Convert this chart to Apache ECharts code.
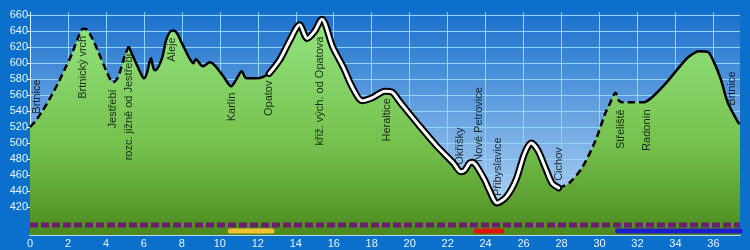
<!DOCTYPE html>
<html>
<head>
<meta charset="UTF-8">
<title>Výškový profil Brtnice</title>
<script src="https://cdn.jsdelivr.net/npm/echarts@6.0.0/dist/echarts.min.js"></script>
<style>
    html, body { margin: 0; padding: 0; background: #0a70cc; }
    #main { width: 750px; height: 250px; }
</style>
</head>
<body>
<div id="main"></div>
<script>
// profil trasy (km, m n. m.)
var profileKm = [0, 0.3, 0.65, 1.1, 1.5, 1.9, 2.2, 2.5, 2.8, 3.0, 3.3, 3.6, 4.05, 4.37, 4.63, 5.0, 5.2, 5.4, 5.8, 6.0,
    6.15, 6.37, 6.5, 6.6, 6.95, 7.2, 7.5, 7.7, 8.0, 8.4, 8.6, 8.74, 9.1, 9.47, 9.74, 10.2, 10.6, 10.9, 11.15, 11.4,
    11.95, 12.3, 12.6, 13.15, 13.7, 14.2, 14.6, 15.0, 15.37, 15.95, 16.5, 17.0, 17.5, 18.05, 18.7, 19.05, 19.5, 20.5, 21.4, 22.3,
    22.7, 22.9, 23.15, 23.3, 23.5, 23.95, 24.2, 24.6, 25.1, 25.6, 26.05, 26.4, 26.75, 27.2, 27.5, 27.85, 28.4, 29.1, 29.8, 30.3,
    30.5, 30.85, 31.0, 31.2, 32.4, 32.8, 33.5, 34.2, 34.7, 35.26, 35.7, 36.05, 36.4, 36.75, 37.3, 37.4];
var profileElev = [520, 528, 540, 558, 576, 596, 611, 630, 643, 642, 630, 614, 589, 576, 582, 610, 621, 610, 589, 581,
    587, 606, 594, 591, 606, 631, 641, 639, 625, 606, 600, 605, 596, 601, 597, 583, 571, 581, 590, 581,
    581, 583, 587, 604, 629, 648, 631, 640, 655, 620, 595, 569, 553, 557, 565, 564, 551, 522, 497, 475,
    464, 466, 475, 476, 472, 454, 441, 425, 433, 454, 487, 500, 491, 466, 450, 444, 450, 470, 504, 537,
    547, 563, 554, 551, 551, 558, 575, 595, 608, 615, 614, 600, 579, 551, 526, 524];

// zastávky
var stopNames = ['Brtnice', 'Brtnický vrch', 'Jestřebí', 'rozc. jižně od Jestřebí', 'Aleje', 'Karlín', 'Opatov',
    'křiž. vých. od Opatova', 'Heraltice', 'Okříšky', 'Nové Petrovice', 'Přibyslavice', 'Cichov', 'Střeliště', 'Radonín', 'Brtnice'];
var stopKm = [0.37, 2.78, 4.37, 5.2, 7.5, 10.65, 12.6, 15.3, 18.8, 22.65, 23.65, 24.65, 27.85, 31.15, 32.5, 37.0];
var stopElev = [528, 643, 576, 621, 641, 572, 587, 642, 565, 464, 468, 425, 444, 551, 551, 538];

// povrch / značení úseků
var segFrom = [0, 5.2, 12.6, 27.85, 32.4];
var segTo = [5.2, 12.6, 27.85, 32.4, 37.4];
var segKind = ['dashed', 'solid', 'marked', 'dashed', 'solid'];

// barevné pruhy dole
var stripFrom = [10.55, 23.5, 30.95];
var stripTo = [12.75, 24.85, 37.4];
var stripColor = ['#f2c232', '#e41010', '#1c1ccc'];

var xTicks = [0, 2, 4, 6, 8, 10, 12, 14, 16, 18, 20, 22, 24, 26, 28, 30, 32, 34, 36];
var yTicks = [420, 440, 460, 480, 500, 520, 540, 560, 580, 600, 620, 640, 660];

var xMax = 37.4;
var profile = profileKm.map(function (k, i) { return [k, profileElev[i]]; });

function slice(a, b) {
    return profile.filter(function (p) { return p[0] >= a - 1e-6 && p[0] <= b + 1e-6; });
}

var series = [];

// zelená plocha
series.push({
    type: 'line', data: profile, symbol: 'none', smooth: 0.3, silent: true,
    lineStyle: { width: 0 },
    areaStyle: {
        origin: 'start', opacity: 1,
        color: new echarts.graphic.LinearGradient(0, 0, 0, 1, [
            { offset: 0, color: '#94e480' },
            { offset: 0.6, color: '#74c04c' },
            { offset: 1, color: '#4c8a1e' }
        ])
    },
    z: 1
});

// fialová tečkovaná čára
series.push({
    type: 'line', data: [[0, 397.5], [xMax, 397.5]], symbol: 'none', silent: true,
    lineStyle: { color: '#6e1e6e', width: 5, type: [8, 3] }, z: 3
});
stripFrom.forEach(function (a, i) {
    series.push({
        type: 'line', data: [[a, 390], [stripTo[i], 390]], symbol: 'none', silent: true,
        lineStyle: { color: stripColor[i], width: 5, cap: 'round' }, z: 3
    });
});

segFrom.forEach(function (a, i) {
    var d = slice(a, segTo[i]);
    if (segKind[i] == 'marked') {
        series.push({ type: 'line', data: d, symbol: 'none', smooth: 0.3, silent: true,
            lineStyle: { color: '#000', width: 7, cap: 'round', join: 'round' }, z: 4 });
        series.push({ type: 'line', data: d, symbol: 'none', smooth: 0.3, silent: true,
            lineStyle: { color: '#fff', width: 3, cap: 'round', join: 'round' }, z: 5 });
    } else {
        series.push({ type: 'line', data: d, symbol: 'none', smooth: 0.3, silent: true,
            lineStyle: { color: '#000', width: 2.5, type: segKind[i] == 'dashed' ? [7, 4] : 'solid', join: 'round' }, z: 4 });
    }
});

// popisky zastávek
series.push({
    type: 'scatter', symbolSize: 0, silent: true, z: 6,
    data: stopNames.map(function (n, i) {
        var above = stopElev[i] < 540;
        return {
            value: [stopKm[i], stopElev[i]], name: n,
            label: {
                show: true, formatter: n, rotate: 90,
                position: above ? 'top' : 'bottom', distance: 7,
                align: above ? 'left' : 'right', verticalAlign: 'middle',
                color: '#000', fontSize: 11, fontFamily: 'Liberation Sans, Arial, sans-serif'
            }
        };
    })
});

var chart = echarts.init(document.getElementById('main'));
chart.setOption({
    backgroundColor: '#0a70cc',
    animation: false,
    grid: {
        left: 30, right: 10, top: 12, bottom: 15, show: true, borderWidth: 0,
        backgroundColor: new echarts.graphic.LinearGradient(0, 0, 0, 1, [
            { offset: 0, color: '#1a70cc' },
            { offset: 1, color: '#c4e0f8' }
        ])
    },
    xAxis: {
        type: 'value', min: 0, max: xMax,
        axisLine: { show: true, lineStyle: { color: '#f4faff', width: 1.5 } },
        axisTick: { show: false, customValues: xTicks },
        axisLabel: { customValues: xTicks, color: '#e8f4ff', fontSize: 11, margin: 3,
            fontFamily: 'Liberation Sans, Arial, sans-serif' },
        splitLine: { show: true, lineStyle: { color: '#90d4ff', width: 1 } }
    },
    yAxis: {
        type: 'value', min: 385, max: 664,
        axisLine: { show: true, lineStyle: { color: '#e0f2ff', width: 1 } },
        axisTick: { show: true, length: 3, customValues: yTicks, lineStyle: { color: '#e0f2ff' } },
        axisLabel: { customValues: yTicks, color: '#e8f4ff', fontSize: 11, margin: 2,
            fontFamily: 'Liberation Sans, Arial, sans-serif' },
        splitLine: { show: true, lineStyle: { color: '#90d4ff', width: 1 } }
    },
    series: series
});
</script>
</body>
</html>
